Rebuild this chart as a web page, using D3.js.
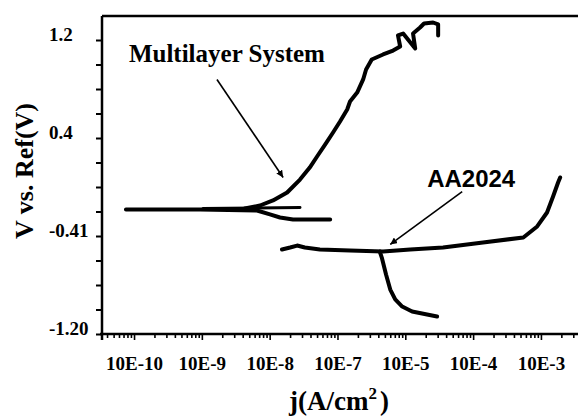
<!DOCTYPE html>
<html>
<head>
<meta charset="utf-8">
<script src="https://cdn.jsdelivr.net/npm/d3@7"></script>
<style>
  body { margin: 0; background: #fff; }
  svg { display: block; }
</style>
</head>
<body>
<div id="chart"></div>
<script>
// axis ticks (labels copied as printed in the figure)
var xTickValues = [1e-10, 1e-9, 1e-8, 1e-7, 1e-6, 1e-5, 1e-4];
var xTickLabels = ["10E-10", "10E-9", "10E-8", "10E-7", "10E-5", "10E-4", "10E-3"];
var yTickValues = [1.2, 0.4, -0.4, -1.2];
var yTickLabels = ["1.2", "0.4", "-0.41", "-1.20"];

// [j (A/cm2), V]
var multiCathodic = [[7.6e-11, -0.184], [9.4e-10, -0.184], [6.5e-9, -0.192], [1.01e-8, -0.224],
  [1.42e-8, -0.249], [2.21e-8, -0.265], [7.8e-8, -0.265]];
var multiFlat = [[1.04e-9, -0.176], [6.1e-9, -0.171], [2.8e-8, -0.167]];
var multiAnodic = [[4.3e-9, -0.176], [7.2e-9, -0.151], [1.12e-8, -0.110], [1.81e-8, -0.045],
  [2.8e-8, 0.061], [3.9e-8, 0.159], [5.0e-8, 0.249], [6.6e-8, 0.347], [8.6e-8, 0.445],
  [1.09e-7, 0.535], [1.39e-7, 0.633], [1.53e-7, 0.698], [1.95e-7, 0.771], [2.39e-7, 0.878],
  [2.64e-7, 0.959], [3.2e-7, 1.041], [4.7e-7, 1.082], [6.6e-7, 1.114], [8.4e-7, 1.147],
  [7.8e-7, 1.237], [9.3e-7, 1.253], [1.40e-6, 1.131], [1.30e-6, 1.253], [1.65e-6, 1.302],
  [1.89e-6, 1.335], [2.57e-6, 1.343], [3.05e-6, 1.327], [3.05e-6, 1.237]];

var aaAnodic = [[1.52e-8, -0.510], [2.0e-8, -0.494], [2.54e-8, -0.478], [3.3e-8, -0.494],
  [5.5e-8, -0.510], [1.53e-7, -0.518], [4.7e-7, -0.527], [1.18e-6, -0.510], [3.6e-6, -0.494],
  [1.40e-5, -0.453], [5.5e-5, -0.412], [8.8e-5, -0.322], [1.23e-4, -0.208], [1.51e-4, -0.078],
  [1.79e-4, 0.037], [1.92e-4, 0.078]];
var aaCathodic = [[4.2e-7, -0.527], [4.5e-7, -0.576], [5.2e-7, -0.714], [6.0e-7, -0.837],
  [7.1e-7, -0.918], [9.0e-7, -0.976], [1.26e-6, -1.016], [2.94e-6, -1.057]];

// annotations: [j, V] of label start and arrow ends
var multiLabel = [8.4e-11, 1.024];
var multiArrow = [[1.67e-9, 0.878], [1.58e-8, 0.078]];
var aaLabel = [2.1e-6, 0.004];
var aaArrow = [[6.9e-6, -0.037], [6.0e-7, -0.469]];

var width = 578, height = 416;
var margin = {top: 16, right: 0, bottom: 82, left: 102};

var svg = d3.select("#chart")
  .append("svg")
    .attr("width", width)
    .attr("height", height);

var x = d3.scaleLog()
  .domain([3.37e-11, 3.52e-4])
  .range([margin.left, width - margin.right]);

var y = d3.scaleLinear()
  .domain([-1.2, 1.396])
  .range([height - margin.bottom, margin.top]);

var serif = "'Liberation Serif', 'Times New Roman', serif";
var sans = "'Liberation Sans', Arial, sans-serif";

// minor x ticks (2..9 in each decade)
var minorX = [];
for (var e = -11; e <= -4; e++) {
  for (var k = 2; k <= 9; k++) {
    var v = k * Math.pow(10, e);
    if (v > x.domain()[0] && v < x.domain()[1]) minorX.push(v);
  }
}

svg.append("g")
  .attr("transform", `translate(0,${height - margin.bottom})`)
  .call(d3.axisBottom(x).tickValues(minorX).tickSize(4).tickFormat(""))
  .call(g => g.select(".domain").remove())
  .selectAll("line").attr("stroke", "#000").attr("stroke-width", 1.6);

var xAxis = svg.append("g")
  .attr("transform", `translate(0,${height - margin.bottom})`)
  .call(d3.axisBottom(x).tickValues(xTickValues).tickSize(6).tickSizeOuter(0)
    .tickFormat((d, i) => xTickLabels[i]));
xAxis.select(".domain").remove();
xAxis.selectAll("line").attr("stroke", "#000").attr("stroke-width", 1.6);
xAxis.selectAll("text")
  .attr("y", 36).attr("dy", 0)
  .attr("fill", "#000")
  .attr("font-family", serif)
  .style("font-family", serif).style("font-weight", "bold").style("font-size", "19px");

// y axis, ticks every 0.2
var yAll = d3.range(-6, 7).map(i => i * 0.2);
var yAxis = svg.append("g")
  .attr("transform", `translate(${margin.left},0)`)
  .call(d3.axisLeft(y).tickValues(yAll).tickSize(6).tickSizeOuter(0)
    .tickFormat(function(d) {
      var i = yTickValues.findIndex(t => Math.abs(t - d) < 1e-6);
      return i >= 0 ? yTickLabels[i] : "";
    }));
yAxis.select(".domain").remove();
yAxis.selectAll("line").attr("stroke", "#000").attr("stroke-width", 2);
yAxis.selectAll("text")
  .attr("x", 49 - margin.left).attr("dy", "0.05em")
  .attr("text-anchor", "start")
  .attr("fill", "#000")
  .style("font-family", serif).style("font-weight", "bold").style("font-size", "19px");

// frame: left, bottom, top
var frame = svg.append("g").attr("stroke", "#000").attr("stroke-width", 2.5);
frame.append("line")
  .attr("x1", margin.left).attr("x2", margin.left)
  .attr("y1", margin.top).attr("y2", height - margin.bottom + 6);
frame.append("line")
  .attr("x1", margin.left - 2).attr("x2", width)
  .attr("y1", height - margin.bottom).attr("y2", height - margin.bottom);
frame.append("line")
  .attr("x1", margin.left).attr("x2", width)
  .attr("y1", margin.top).attr("y2", margin.top);

// curves
var line = d3.line()
  .x(d => x(d[0]))
  .y(d => y(d[1]));

[multiCathodic, multiFlat, multiAnodic, aaAnodic, aaCathodic].forEach(function(s, i) {
  svg.append("path")
    .datum(s)
    .attr("d", line)
    .attr("fill", "none")
    .attr("stroke", "#000")
    .attr("stroke-width", i == 1 ? 3 : 4)
    .attr("stroke-linejoin", "round")
    .attr("stroke-linecap", "round");
});

// arrows
svg.append("defs").append("marker")
    .attr("id", "head")
    .attr("viewBox", "0 0 10 10")
    .attr("refX", 10).attr("refY", 5)
    .attr("markerWidth", 7).attr("markerHeight", 7)
    .attr("markerUnits", "userSpaceOnUse")
    .attr("orient", "auto")
  .append("path")
    .attr("d", "M0,0L10,5L0,10z")
    .attr("fill", "#000");

[multiArrow, aaArrow].forEach(function(a) {
  svg.append("line")
    .attr("x1", x(a[0][0])).attr("y1", y(a[0][1]))
    .attr("x2", x(a[1][0])).attr("y2", y(a[1][1]))
    .attr("stroke", "#000")
    .attr("stroke-width", 1.6)
    .attr("marker-end", "url(#head)");
});

svg.append("text")
  .attr("x", x(multiLabel[0])).attr("y", y(multiLabel[1]))
  .style("font-family", serif).style("font-weight", "bold").style("font-size", "25px")
  .text("Multilayer System");

svg.append("text")
  .attr("x", x(aaLabel[0])).attr("y", y(aaLabel[1]))
  .style("font-family", sans).style("font-weight", "bold").style("font-size", "24px")
  .text("AA2024");

// axis titles
svg.append("text")
  .attr("transform", "translate(33,171) rotate(-90)")
  .attr("text-anchor", "middle")
  .style("font-family", serif).style("font-weight", "bold").style("font-size", "26px")
  .text("V vs. Ref(V)");

var xt = svg.append("text")
  .attr("x", 339).attr("y", 410)
  .attr("text-anchor", "middle")
  .style("font-family", serif).style("font-weight", "bold").style("font-size", "27px");
xt.append("tspan").text("j(A/cm");
xt.append("tspan").attr("dy", -11).style("font-size", "17px").text("2");
xt.append("tspan").attr("dy", 11).attr("dx", 3).text(")");
</script>
</body>
</html>
